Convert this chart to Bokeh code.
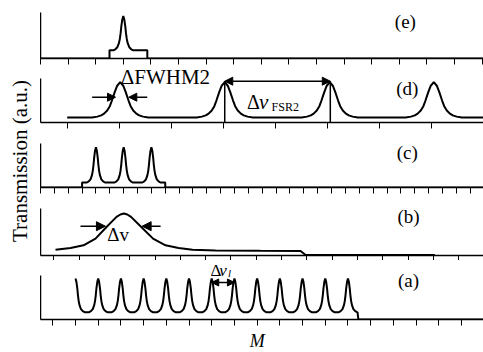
from math import pi
from bokeh.plotting import figure
from bokeh.layouts import row, column
from bokeh.models import FixedTicker, Label, Arrow, NormalHead, Range1d
from bokeh.embed import file_html
from bokeh.resources import INLINE

FONT = "Liberation Serif"

# ---------------- data ----------------
# sharp resonance profile: offset (in half-base-widths) and fraction of peak height
SHARP_DX = [-1.0, -0.8, -0.6, -0.45, -0.35, -0.27, -0.2, -0.1, 0.0,
            0.1, 0.2, 0.27, 0.35, 0.45, 0.6, 0.8, 1.0]
SHARP_F = [0.0, 0.03, 0.09, 0.2, 0.33, 0.5, 0.7, 0.9, 1.0,
           0.9, 0.7, 0.5, 0.33, 0.2, 0.09, 0.03, 0.0]
# broad resonance profile of panel (d): offset in M and fraction of peak height
BROAD_DM = [-0.54, -0.44, -0.365, -0.31, -0.25, -0.2, -0.16, -0.106, -0.058, 0.0,
            0.058, 0.106, 0.16, 0.2, 0.25, 0.31, 0.365, 0.44, 0.54]
BROAD_F = [0.0, 0.025, 0.06, 0.11, 0.2, 0.32, 0.48, 0.72, 0.9, 1.0,
           0.9, 0.72, 0.48, 0.32, 0.2, 0.11, 0.06, 0.025, 0.0]

# panel (a)
A_FIRST = 1.0
A_CENTERS = [2, 3, 4, 5, 6, 7, 8, 9, 10, 11, 12, 13]
A_BASE, A_PEAK, A_HW = 7.3, 41.0, 0.4
A_EDGE, A_EDGE_LOW, A_END = 13.42, 13.46, 19.0

# panel (b)
B_M = [0.067, 0.66, 1.174, 1.648, 2.111, 2.478, 2.63, 2.767, 2.905, 3.051, 3.427,
       3.921, 4.415, 4.929, 5.482, 6.391, 8.170, 9.751, 9.949, 15.06]
B_T = [5.8, 7.6, 10.2, 16.9, 29.3, 38.6, 41.0, 42.0, 41.0, 38.6, 29.3,
       16.9, 10.2, 7.6, 5.8, 5.0, 4.7, 4.6, 0.5, 0.5]

# panel (c)
C_CENTERS = [4, 6, 8]
C_BASE, C_PEAK, C_HW = 5.0, 40.3, 0.65
C_ON, C_OFF, C_END = 3.0, 9.0, 32.0

# panel (d)
D_CENTERS = [1.02, 3.03, 5.05, 7.05]
D_BASE, D_PEAK = 5.0, 40.3
D_START, D_END = 0.0, 8.01
D_FSR = [3.03, 5.06]

# panel (e)
E_CENTER = 3.0
E_BASE, E_PEAK, E_HW = 8.2, 42.5, 0.36
E_ON, E_OFF, E_END = 2.5, 3.87, 16.1

# tick positions (M) of each panel
TICKS_E = list(range(0, 17))
TICKS_D = list(range(0, 9))
TICKS_C = list(range(0, 33))
TICKS_B = list(range(0, 17))
TICKS_A = list(range(0, 19))

TAGS = ["(e)", "(d)", "(c)", "(b)", "(a)"]


def place(centers, dx, f, hw, base, peak):
    xs, ys = [], []
    for c in centers:
        for d, q in zip(dx, f):
            xs.append(c + d * hw)
            ys.append(base + (peak - base) * q)
    return xs, ys


def panel(h, bottom, xr, ytop, axis_top, ticks, tick_len=6):
    p = figure(width=443, height=h, x_range=Range1d(*xr), y_range=Range1d(0, ytop),
               toolbar_location=None, output_backend="svg",
               min_border_left=0, min_border_right=0,
               min_border_top=0, min_border_bottom=bottom,
               outline_line_color=None, background_fill_color="white",
               border_fill_color="white")
    p.grid.visible = False
    ax = p.xaxis[0]
    ax.ticker = FixedTicker(ticks=[], minor_ticks=ticks)
    ax.major_label_standoff = 0
    ax.major_tick_out = 0
    ax.major_tick_in = 0
    ax.minor_tick_out = tick_len
    ax.minor_tick_in = 0
    ax.minor_tick_line_width = 1
    ax.minor_tick_line_color = "black"
    ax.axis_line_width = 1.5
    ax.axis_line_color = "black"
    ay = p.yaxis[0]
    ay.ticker = FixedTicker(ticks=[])
    ay.bounds = (0, axis_top)
    ay.major_tick_out = 0
    ay.major_tick_in = 0
    ay.minor_tick_out = 0
    ay.minor_tick_in = 0
    ay.major_label_standoff = 0
    ay.axis_line_width = 1.5
    ay.axis_line_color = "black"
    return p


def tag(p, text, x, y):
    p.add_layout(Label(x=x, y=y, text=text, text_font=FONT, text_font_size="19px",
                       text_align="center", text_baseline="middle", text_color="black"))


def txt(p, text, x, y, size, style="normal"):
    p.add_layout(Label(x=x, y=y, text=text, text_font=FONT, text_font_size=size,
                       text_font_style=style, text_align="left",
                       text_baseline="middle", text_color="black"))


def arrow(p, x0, x1, y, size=8, both=False):
    p.add_layout(Arrow(x_start=x0, y_start=y, x_end=x1, y_end=y,
                       end=NormalHead(size=size, fill_color="black", line_color="black"),
                       start=NormalHead(size=size, fill_color="black", line_color="black") if both else None,
                       line_width=1.5, line_color="black"))


LW = 2

# ---- (e)
fe = panel(66, 8, (0, 16.05), 58, 46, TICKS_E)
ex, ey = place([E_CENTER], SHARP_DX, SHARP_F, E_HW, E_BASE, E_PEAK)
fe.line([0, E_ON, E_ON] + ex + [E_OFF, E_OFF, E_END],
        [0, 0, E_BASE] + ey + [E_BASE, 0, 0], line_color="black", line_width=LW)
tag(fe, TAGS[0], 13.22, 37.5)

# ---- (d)
fd = panel(66, 10, (-0.513, 8.006), 56, 44, TICKS_D)
dx_, dy_ = place(D_CENTERS, BROAD_DM, BROAD_F, 1.0, D_BASE, D_PEAK)
fd.line([D_START] + dx_ + [D_END], [D_BASE] + dy_ + [D_BASE], line_color="black", line_width=LW)
fd.segment(x0=D_FSR, y0=[0, 0], x1=D_FSR, y1=[41.3, 41.3], line_color="black", line_width=1.5)
arrow(fd, D_FSR[0], D_FSR[1], 41.3, size=8, both=True)
arrow(fd, 0.48, 0.93, 25.3, size=8)
arrow(fd, 1.54, 1.185, 25.3, size=8)
txt(fd, "ΔFWHM2", 1.03, 45.5, "21px")
txt(fd, "Δ", 3.46, 20.3, "20px")
txt(fd, "v", 3.69, 20.3, "21px", "italic")
txt(fd, "FSR2", 3.93, 15.5, "12px")
tag(fd, TAGS[1], 6.54, 34.0)

# ---- (c)
fc = panel(65, 10, (0, 31.96), 55, 44, TICKS_C)
cx, cy = place(C_CENTERS, SHARP_DX, SHARP_F, C_HW, C_BASE, C_PEAK)
fc.line([0, C_ON, C_ON] + cx + [C_OFF, C_OFF, C_END],
        [0, 0, C_BASE] + cy + [C_BASE, 0, 0], line_color="black", line_width=LW)
tag(fc, TAGS[2], 26.46, 35.3)

# ---- (b)
fb = panel(63, 5, (-0.526, 16.98), 58, 47, TICKS_B, tick_len=5)
fb.line(B_M, B_T, line_color="black", line_width=LW)
arrow(fb, 1.055, 2.04, 29.3, size=9)
arrow(fb, 4.22, 3.49, 29.3, size=9)
txt(fb, "Δv", 2.11, 21.1, "19px")
tag(fb, TAGS[3], 14.02, 38.6)

# ---- (a)
fa = panel(67, 8, (-0.542, 18.97), 59, 44, TICKS_A)
hx, hy = place([A_FIRST], SHARP_DX[8:], SHARP_F[8:], A_HW, A_BASE, A_PEAK)
ax_, ay_ = place(A_CENTERS, SHARP_DX, SHARP_F, A_HW, A_BASE, A_PEAK)
fa.line(hx + ax_ + [A_EDGE, A_EDGE_LOW, A_END], hy + ay_ + [A_BASE, 0, 0],
        line_color="black", line_width=LW)
arrow(fa, 7, 8, 37.0, size=7, both=True)
txt(fa, "Δ", 6.95, 49.0, "17px")
txt(fa, "v", 7.33, 49.0, "17px", "italic")
txt(fa, "l", 7.72, 46.5, "11px", "italic")
tag(fa, TAGS[4], 15.67, 39.3)

# ---- y label (left strip)
lab = figure(width=40, height=327, x_range=Range1d(0, 40), y_range=Range1d(0, 327),
             toolbar_location=None, output_backend="svg", min_border=0,
             outline_line_color=None, background_fill_color="white", border_fill_color="white")
lab.axis.visible = False
lab.grid.visible = False
lab.add_layout(Label(x=19.5, y=166.5, text="Transmission (a.u.)", angle=pi / 2,
                     text_font=FONT, text_font_size="21px", text_align="center",
                     text_baseline="middle", text_color="black"))

# ---- x label (bottom strip)
mfig = figure(width=483, height=25, x_range=Range1d(0, 483), y_range=Range1d(0, 25),
              toolbar_location=None, output_backend="svg", min_border=0,
              outline_line_color=None, background_fill_color="white", border_fill_color="white")
mfig.axis.visible = False
mfig.grid.visible = False
mfig.add_layout(Label(x=256.7, y=12.0, text="M", text_font=FONT, text_font_size="18px",
                      text_font_style="italic", text_align="center",
                      text_baseline="middle", text_color="black"))

layout = column(row(lab, column(fe, fd, fc, fb, fa, spacing=0), spacing=0), mfig, spacing=0)
open("out.html", "w").write(file_html(layout, INLINE))
